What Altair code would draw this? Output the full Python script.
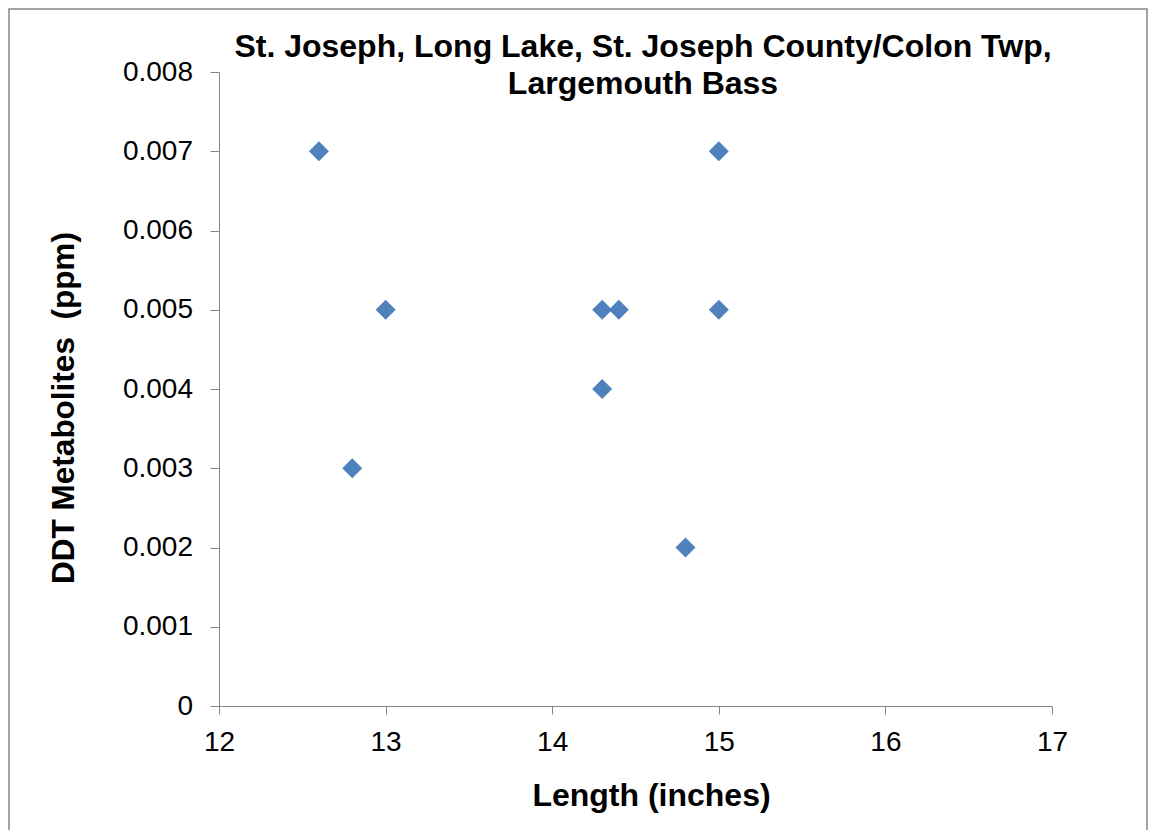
import altair as alt
import pandas as pd

# Data
length_in = [12.6, 13.0, 12.8, 14.3, 14.4, 14.3, 15.0, 15.0, 14.8]
ddt_ppm = [0.007, 0.005, 0.003, 0.005, 0.005, 0.004, 0.007, 0.005, 0.002]
x_ticks = [12, 13, 14, 15, 16, 17]
y_ticks = [0, 0.001, 0.002, 0.003, 0.004, 0.005, 0.006, 0.007, 0.008]
title_lines = ["St. Joseph, Long Lake, St. Joseph County/Colon Twp,", "Largemouth Bass"]

df = pd.DataFrame({"length": length_in, "ddt": ddt_ppm})
one = pd.DataFrame({"k": [0]})

FONT = "Liberation Sans"
GREY = "#868686"

points = alt.Chart(df).mark_point(
    shape="diamond", filled=True, size=400, color="#4F81BD", opacity=1
).encode(
    x=alt.X(
        "length:Q",
        scale=alt.Scale(domain=[12, 17], nice=False, zero=False),
        axis=alt.Axis(
            values=x_ticks,
            title="Length (inches)",
            titleFont=FONT, titleFontSize=32, titleFontWeight="bold", titleColor="black",
            titleX=432, titleY=99, titleBaseline="alphabetic", titleAlign="center",
            labelFont=FONT, labelFontSize=28, labelColor="black",
            labelPadding=14, tickSize=8, grid=False, labelFlush=False,
        ),
    ),
    y=alt.Y(
        "ddt:Q",
        scale=alt.Scale(domain=[0, 0.008], nice=False),
        axis=alt.Axis(
            values=y_ticks,
            labelExpr="datum.value == 0 ? '0' : format(datum.value, '.3f')",
            title="DDT Metabolites\u00a0 (ppm)",
            titleFont=FONT, titleFontSize=31.5, titleFontWeight="bold", titleColor="black",
            titleX=-146, titleY=335.5, titleAngle=270, titleBaseline="alphabetic", titleAlign="center",
            labelFont=FONT, labelFontSize=28, labelColor="black",
            labelPadding=17.5, tickSize=9, grid=False, labelFlush=False,
        ),
    ),
)

title = alt.Chart(one).mark_text(
    text=title_lines, font=FONT, fontSize=32, fontWeight="bold", color="black",
    align="center", baseline="alphabetic", lineHeight=37,
).encode(x=alt.value(424), y=alt.value(-15))

border = alt.Chart(one).mark_rect(
    fillOpacity=0, stroke=GREY, strokeWidth=1.5
).encode(x=alt.value(-210), x2=alt.value(928), y=alt.value(-63), y2=alt.value(900))

chart = alt.layer(border, points, title).properties(
    width=833, height=634,
    autosize="none",
    padding={"left": 211, "top": 64, "right": 96, "bottom": 124},
).configure_view(stroke=None).configure_axis(
    domainColor=GREY, tickColor=GREY, domainWidth=1, tickWidth=1
)

chart.save("out.html", embed_options={"renderer": "svg", "actions": False})
